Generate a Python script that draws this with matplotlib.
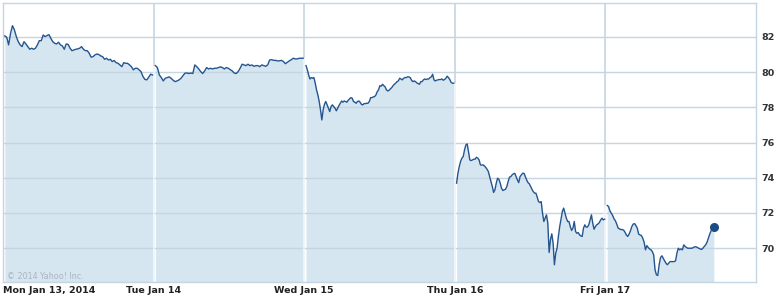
import numpy as np
import matplotlib.pyplot as plt

# intraday prices, one list per trading day
mon = [82.06, 81.98, 81.55, 82.21, 82.64, 82.40, 82.02, 81.73, 81.55, 81.45,
       81.73, 81.60, 81.45, 81.30, 81.36, 81.30, 81.36, 81.55, 81.79, 81.79,
       82.11, 82.02, 82.08, 82.13, 81.92, 81.73, 81.64, 81.60, 81.70, 81.55,
       81.49, 81.30, 81.60, 81.58, 81.36, 81.22, 81.26, 81.30, 81.32, 81.36,
       81.45, 81.30, 81.22, 81.22, 81.07, 80.85, 80.88, 80.98, 81.03, 81.00,
       80.92, 80.88, 80.73, 80.79, 80.69, 80.73, 80.60, 80.66, 80.54, 80.50,
       80.41, 80.31, 80.54, 80.50, 80.50, 80.41, 80.31, 80.13, 80.22, 80.22,
       80.13, 80.03, 79.75, 79.59, 79.56, 79.71, 79.88, 79.84]
tue = [80.37, 80.26, 79.84, 79.69, 79.50, 79.65, 79.69, 79.73, 79.65, 79.54,
       79.46, 79.50, 79.56, 79.65, 79.80, 79.94, 79.95, 79.92, 79.95, 79.92,
       80.41, 80.31, 80.18, 80.03, 79.92, 80.07, 80.26, 80.18, 80.22, 80.18,
       80.22, 80.22, 80.26, 80.30, 80.26, 80.18, 80.26, 80.22, 80.14, 80.07,
       79.95, 79.92, 80.03, 80.22, 80.45, 80.41, 80.37, 80.45, 80.37, 80.41,
       80.33, 80.37, 80.37, 80.31, 80.41, 80.37, 80.33, 80.41, 80.69, 80.71,
       80.67, 80.67, 80.64, 80.64, 80.67, 80.60, 80.48, 80.56, 80.64, 80.71,
       80.79, 80.75, 80.75, 80.79, 80.79, 80.79]
wed = [80.37, 80.13, 79.84, 79.61, 79.69, 79.65, 79.69, 79.37, 78.99, 78.70,
       78.33, 77.85, 77.28, 77.85, 78.17, 78.33, 78.14, 77.95, 77.76, 78.04,
       78.14, 78.04, 77.95, 77.80, 77.95, 78.10, 78.23, 78.36, 78.29, 78.36,
       78.33, 78.29, 78.40, 78.48, 78.55, 78.52, 78.33, 78.29, 78.23, 78.33,
       78.36, 78.29, 78.17, 78.14, 78.21, 78.21, 78.23, 78.23, 78.33, 78.55,
       78.55, 78.59, 78.61, 78.70, 78.89, 78.99, 79.23, 79.20, 79.31, 79.23,
       79.16, 78.99, 78.93, 78.97, 79.05, 79.12, 79.23, 79.31, 79.37, 79.46,
       79.50, 79.65, 79.61, 79.56, 79.65, 79.69, 79.69, 79.73, 79.73, 79.69,
       79.54, 79.46, 79.50, 79.46, 79.39, 79.35, 79.31, 79.46, 79.46, 79.56,
       79.61, 79.58, 79.61, 79.61, 79.69, 79.73, 79.88, 79.56, 79.50, 79.54,
       79.56, 79.58, 79.58, 79.61, 79.54, 79.58, 79.65, 79.77, 79.69, 79.58,
       79.42, 79.37, 79.37]
thu = [73.69, 74.25, 74.63, 74.92, 75.11, 75.20, 75.58, 75.86, 75.92, 75.48,
       75.01, 74.97, 75.01, 75.05, 75.05, 75.16, 75.11, 75.01, 74.73, 74.71,
       74.73, 74.67, 74.59, 74.48, 74.35, 74.06, 73.78, 73.50, 73.16, 73.31,
       73.69, 73.97, 73.91, 73.69, 73.40, 73.27, 73.31, 73.34, 73.50, 73.78,
       74.03, 74.06, 74.16, 74.22, 74.25, 74.06, 73.87, 73.72, 74.06, 74.16,
       74.25, 74.25, 74.06, 73.87, 73.72, 73.65, 73.50, 73.34, 73.21, 73.12,
       73.12, 72.89, 72.64, 72.59, 72.64, 71.98, 71.51, 71.70, 71.89, 71.41,
       69.75, 70.47, 70.81, 70.28, 69.05, 69.71, 69.99, 70.66, 71.22, 71.64,
       72.08, 72.27, 71.98, 71.70, 71.51, 71.51, 71.22, 71.00, 71.13, 71.51,
       70.94, 70.84, 70.88, 70.75, 70.69, 70.66, 71.13, 71.32, 71.19, 71.19,
       71.32, 71.60, 71.89, 71.41, 71.07, 71.22, 71.32, 71.37, 71.45, 71.60,
       71.70, 71.60, 71.64]
fri = [72.42, 72.36, 72.11, 71.98, 71.85, 71.66, 71.55, 71.36, 71.13, 71.09,
       71.05, 71.05, 71.02, 70.90, 70.75, 70.66, 70.79, 70.98, 71.22, 71.36,
       71.39, 71.28, 71.13, 70.79, 70.75, 70.71, 70.56, 70.33, 69.90, 70.14,
       70.03, 69.95, 69.90, 69.80, 69.61, 68.76, 68.48, 68.44, 69.05, 69.46,
       69.56, 69.42, 69.27, 69.14, 69.05, 69.14, 69.23, 69.23, 69.23, 69.23,
       69.27, 69.71, 69.99, 69.90, 69.95, 69.90, 70.18, 70.09, 70.03, 69.99,
       69.99, 69.99, 69.99, 70.03, 70.07, 70.07, 70.03, 69.99, 69.95, 69.92,
       69.99, 70.09, 70.18, 70.33, 70.56, 70.79, 70.98, 71.09, 71.17]

days = [mon, tue, wed, thu, fri]
day_labels = ['Mon Jan 13, 2014', 'Tue Jan 14', 'Wed Jan 15', 'Thu Jan 16', 'Fri Jan 17']
day_ends = [0.993, 0.993, 0.993, 0.995, 0.72]  # fraction of the session shown
y_ticks = [70, 72, 74, 76, 78, 80, 82]

line_col = '#24558f'
fill_col = '#d6e6f1'
grid_col = '#c5d5e1'
ymin, ymax = 68.07, 83.93

fig = plt.figure(figsize=(7.8, 2.98), dpi=100)
ax = fig.add_axes([3 / 780, 16 / 298, 753 / 780, 279 / 298])

for i, vals in enumerate(days):
    x = np.linspace(i + 0.012, i + day_ends[i], len(vals))
    ax.fill_between(x, vals, ymin, color=fill_col, lw=0, zorder=1)
    ax.plot(x, vals, color=line_col, lw=1.0, zorder=3)
    if i == len(days) - 1:
        ax.plot(x[-1], vals[-1], 'o', color='#1d4c84', ms=5.5, zorder=4)

# grid lines; day separators only show above the shaded area
for yv in y_ticks:
    ax.axhline(yv, color=grid_col, lw=1, zorder=2)
for d in range(1, 5):
    top_fill = max(days[d - 1][-1], days[d][0])
    ax.vlines(d, top_fill, ymax, color=grid_col, lw=1.2, zorder=2)
    ax.vlines(d, ymin, top_fill, color='#eef4f8', lw=1.2, zorder=2)

ax.set_xlim(0, 5)
ax.set_ylim(ymin, ymax)

ax.yaxis.tick_right()
ax.set_yticks(y_ticks)
ax.set_yticklabels([str(v) for v in y_ticks], fontsize=6.8, fontweight='bold', color='#333333')
ax.set_xticks(range(5))
ax.set_xticklabels(day_labels, fontsize=6.8, fontweight='bold', color='#222222')
ax.get_xticklabels()[0].set_ha('left')
ax.tick_params(axis='both', length=0)
ax.tick_params(axis='x', pad=3)
ax.tick_params(axis='y', pad=4)

for s in ax.spines.values():
    s.set_color(grid_col)
    s.set_linewidth(1)

ax.text(0.005, 0.01, '\u00a9 2014 Yahoo! Inc.', transform=ax.transAxes,
        fontsize=5.8, color='#a9b4bf', zorder=5)

fig.savefig('out.png', dpi=100)
